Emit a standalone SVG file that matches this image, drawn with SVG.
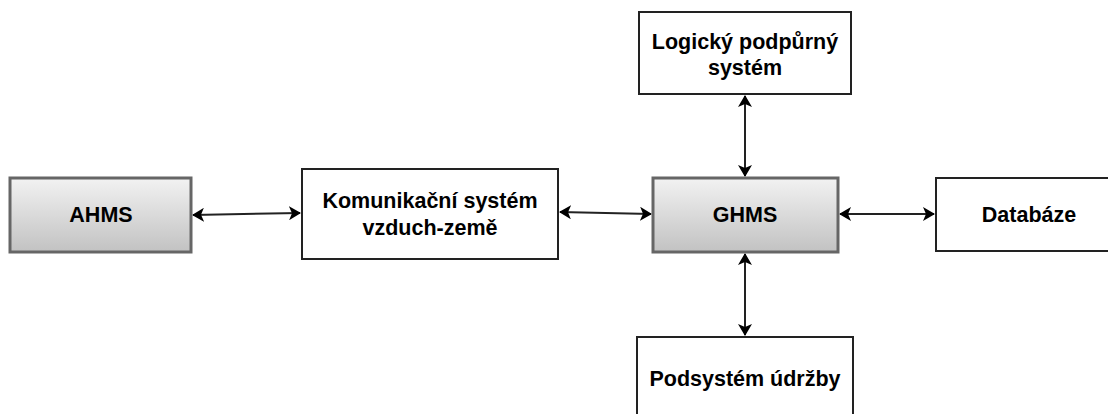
<svg xmlns="http://www.w3.org/2000/svg" width="1108" height="414" viewBox="0 0 1108 414">
<defs>
<linearGradient id="g" x1="0" y1="0" x2="0" y2="1">
<stop offset="0" stop-color="#f2f2f2"/>
<stop offset="1" stop-color="#c2c2c2"/>
</linearGradient>
<marker id="ae" viewBox="0 0 12 14" refX="11" refY="7" markerWidth="12" markerHeight="14" markerUnits="userSpaceOnUse" orient="auto">
<path d="M0,0 L12,7 L0,14 L3,7 z" fill="#000"/>
</marker>
<marker id="as" viewBox="0 0 12 14" refX="1" refY="7" markerWidth="12" markerHeight="14" markerUnits="userSpaceOnUse" orient="auto">
<path d="M12,0 L0,7 L12,14 L9,7 z" fill="#000"/>
</marker>
</defs>
<style>
.gray{fill:url(#g);stroke:#666;stroke-width:3}
.white{fill:#fff;stroke:#222;stroke-width:2}
text{font-family:"Liberation Sans",Arial,sans-serif;font-weight:bold;font-size:21.5px;fill:#000;text-anchor:middle;dominant-baseline:central}
.c{stroke:#222;stroke-width:2;fill:none;marker-start:url(#as);marker-end:url(#ae)}
</style>
<rect width="1108" height="414" fill="#fff"/>
<g id="connectors">
<line class="c" x1="193" y1="215" x2="300" y2="213"/>
<line class="c" x1="560" y1="212" x2="651" y2="214"/>
<line class="c" x1="840" y1="214" x2="934" y2="214"/>
<line class="c" x1="745" y1="96" x2="745" y2="176"/>
<line class="c" x1="745" y1="254" x2="745" y2="335"/>
</g>
<g id="ahms">
<rect class="gray" x="10" y="178" width="181" height="74"/>
<text x="101" y="215">AHMS</text>
</g>
<g id="komunikacni">
<rect class="white" x="302" y="169" width="256" height="90"/>
<text x="430" y="201">Komunikační systém</text>
<text x="430" y="228">vzduch-země</text>
</g>
<g id="ghms">
<rect class="gray" x="653" y="178" width="185" height="74"/>
<text x="745" y="215">GHMS</text>
</g>
<g id="databaze">
<rect class="white" x="936" y="178" width="184" height="73"/>
<text x="1029" y="215">Databáze</text>
</g>
<g id="logicky">
<rect class="white" x="639" y="12" width="212" height="82"/>
<text x="745" y="42">Logický podpůrný</text>
<text x="745" y="68">systém</text>
</g>
<g id="podsystem">
<rect class="white" x="637" y="337" width="216" height="84"/>
<text x="745" y="379">Podsystém údržby</text>
</g>
</svg>
